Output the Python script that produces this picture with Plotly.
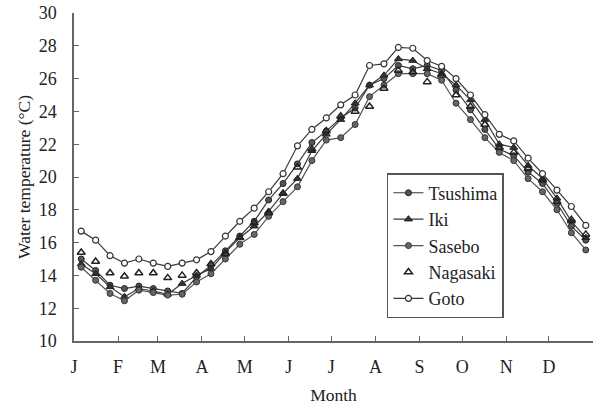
import plotly.graph_objects as go

# Ten-day (decade) periods, 36 per year; x = day of year at period midpoint
periods = list(range(36))
days = [(i + 0.5) * 365 / 36 for i in periods]

month_start_days = [0, 31, 59, 90, 120, 151, 181, 212, 243, 273, 304, 334, 365]
month_labels = ["J", "F", "M", "A", "M", "J", "J", "A", "S", "O", "N", "D", ""]

tsushima = [15.0, 14.3, 13.4, 13.2, 13.35, 13.2, 13.05, 12.9, 13.9, 14.6, 15.5, 16.4,
            17.3, 18.6, 19.6, 20.8, 22.1, 22.8, 23.6, 24.2, 25.6, 26.0, 26.8, 26.6,
            26.8, 26.5, 25.3, 24.1, 22.9, 21.7, 21.3, 20.3, 19.6, 18.4, 17.0, 16.15]
iki = [14.7, 14.1, 13.3, 12.7, 13.2, 13.05, 12.85, 13.5, 14.0, 14.4, 15.4, 16.3,
       17.0, 17.9, 19.0, 19.9, 21.6, 22.6, 23.5, 24.5, 25.6, 26.2, 27.2, 27.1,
       26.6, 26.3, 25.6, 24.7, 23.5, 22.0, 21.8, 20.7, 19.9, 18.7, 17.3, 16.3]
sasebo = [14.5, 13.7, 12.9, 12.45, 13.1, 12.95, 12.8, 12.85, 13.6, 14.1, 15.0, 15.9,
          16.5, 17.6, 18.5, 19.4, 21.0, 22.25, 22.4, 23.2, 24.9, 25.6, 26.3, 26.3,
          26.3, 25.9, 24.5, 23.5, 22.4, 21.5, 21.0, 19.9, 19.1, 18.0, 16.6, 15.55]
nagasaki = [15.4, 14.85, 14.15, 13.95, 14.15, 14.15, 13.85, 14.0, 14.15, 14.7, 15.3, 16.3,
            17.2, 17.8, 19.0, 20.6, 21.7, 22.8, 23.7, 24.0, 24.3, 25.4, 26.5, 26.4,
            25.8, 26.2, 25.0, 24.3, 23.2, 21.8, 21.5, 20.5, 19.8, 18.5, 17.4, 16.5]
goto = [16.7, 16.15, 15.2, 14.75, 15.0, 14.75, 14.55, 14.75, 14.95, 15.45, 16.4, 17.3,
        18.1, 19.1, 20.2, 21.9, 22.9, 23.6, 24.4, 25.0, 26.8, 26.9, 27.9, 27.85,
        27.1, 26.75, 26.0, 25.0, 23.8, 22.6, 22.2, 21.15, 20.2, 19.2, 18.2, 17.05]

LINE = "#3a3a3a"
FONT = "Liberation Serif"

fig = go.Figure()
fig.add_trace(go.Scatter(x=days, y=tsushima, name="Tsushima", mode="lines+markers",
                         legendgroup="a",
                         line=dict(color=LINE, width=1.2),
                         marker=dict(symbol="circle", size=6, color="#555555",
                                     line=dict(color="#222222", width=1))))
fig.add_trace(go.Scatter(x=days, y=iki, name="Iki", mode="lines+markers",
                         legendgroup="b",
                         line=dict(color=LINE, width=1.2),
                         marker=dict(symbol="triangle-up", size=7, color="#333333",
                                     line=dict(color="#222222", width=1))))
fig.add_trace(go.Scatter(x=days, y=sasebo, name="Sasebo", mode="lines+markers",
                         legendgroup="c",
                         line=dict(color="#555555", width=1.2),
                         marker=dict(symbol="circle", size=6, color="#666666",
                                     line=dict(color="#333333", width=1))))
fig.add_trace(go.Scatter(x=days, y=nagasaki, name="Nagasaki", mode="markers",
                         legendgroup="d",
                         marker=dict(symbol="triangle-up-open", size=7, color="#222222",
                                     line=dict(color="#222222", width=1.5))))
fig.add_trace(go.Scatter(x=days, y=goto, name="Goto", mode="lines+markers",
                         legendgroup="e",
                         line=dict(color=LINE, width=1.2),
                         marker=dict(symbol="circle", size=6, color="white",
                                     line=dict(color="#333333", width=1.2))))

fig.update_layout(
    width=600, height=410,
    margin=dict(l=74, r=7, t=13, b=69),
    paper_bgcolor="white", plot_bgcolor="white",
    font=dict(family=FONT, size=18, color="#222222"),
    showlegend=True,
    legend=dict(x=0.603, y=0.512, xanchor="left", yanchor="top",
                bordercolor="#555555", borderwidth=1.5, bgcolor="white",
                font=dict(family=FONT, size=18, color="#222222"),
                tracegroupgap=0, itemwidth=30),
)
fig.update_xaxes(range=[0, 365], tickvals=month_start_days, ticktext=month_labels,
                 ticks="inside", ticklen=5, tickcolor="#666666", showgrid=False,
                 zeroline=False, showline=True, linecolor="#666666", linewidth=1.5,
                 automargin=False,
                 tickfont=dict(family=FONT, size=18), ticklabelstandoff=9,
                 title=dict(text="Month", font=dict(family=FONT, size=17.5), standoff=12))
fig.update_yaxes(range=[10, 30], dtick=2, tick0=10,
                 ticks="inside", ticklen=5, tickcolor="#666666", showgrid=False,
                 zeroline=False, showline=True, linecolor="#666666", linewidth=1.5,
                 automargin=False,
                 tickfont=dict(family=FONT, size=18), ticklabelstandoff=12,
                 title=dict(text="Water temperature (°C)", font=dict(family=FONT, size=17.5),
                            standoff=4))

fig.write_html("out.html", config={"displayModeBar": False},
               post_script="document.body.style.margin='0';")
